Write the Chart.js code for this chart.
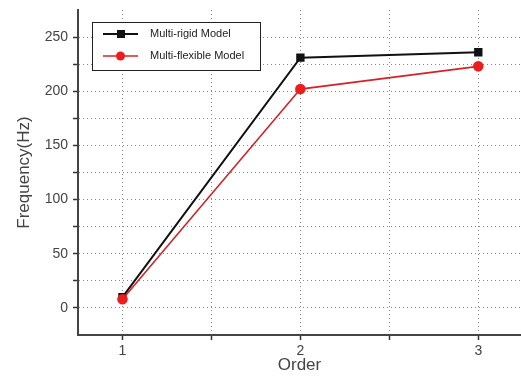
<!DOCTYPE html>
<html>
<head>
<meta charset="utf-8">
<script src="https://cdn.jsdelivr.net/npm/chart.js@4/dist/chart.umd.min.js"></script>
<style>
  html, body { margin: 0; padding: 0; background: #fff; }
  #wrap { width: 521px; height: 376px; }
</style>
</head>
<body>
<div id="wrap"><canvas id="chart"></canvas></div>
<script>
const orders = [1, 2, 3];
const rigidValues = [10, 231, 236];
const flexibleValues = [8, 202, 223];
const xTicks = [1, 1.5, 2, 2.5, 3];
const yTicks = [0, 25, 50, 75, 100, 125, 150, 175, 200, 225, 250];

const toPoints = (values) => values.map((v, i) => ({ x: orders[i], y: v }));

// legend drawn inside the plot, like the original
const boxLegend = {
  id: "boxLegend",
  afterDraw(chart) {
    const { ctx, chartArea } = chart;
    const x0 = chartArea.left + 14;
    const y0 = chartArea.top + 12;
    ctx.save();
    ctx.fillStyle = "#fff";
    ctx.fillRect(x0, y0, 168, 48);
    ctx.strokeStyle = "#222";
    ctx.lineWidth = 1;
    ctx.strokeRect(x0 + 0.5, y0 + 0.5, 168, 48);
    chart.data.datasets.forEach((ds, i) => {
      const y = y0 + 12 + i * 22;
      ctx.strokeStyle = ds.borderColor;
      ctx.lineWidth = ds.borderWidth;
      ctx.beginPath();
      ctx.moveTo(x0 + 11, y);
      ctx.lineTo(x0 + 46, y);
      ctx.stroke();
      ctx.fillStyle = ds.pointBackgroundColor;
      if (ds.pointStyle === "rect") {
        ctx.fillRect(x0 + 25, y - 4, 8, 8);
      } else {
        ctx.beginPath();
        ctx.arc(x0 + 28.5, y, 4.5, 0, Math.PI * 2);
        ctx.fill();
      }
      ctx.fillStyle = "#222";
      ctx.font = "11px 'Liberation Sans', Arial, sans-serif";
      ctx.textBaseline = "middle";
      ctx.fillText(ds.label, x0 + 58, y);
    });
    ctx.restore();
  },
};

new Chart(document.getElementById("chart"), {
  type: "scatter",
  data: {
    datasets: [
      {
        label: "Multi-rigid Model",
        data: toPoints(rigidValues),
        showLine: true,
        borderColor: "#111",
        borderWidth: 2,
        pointStyle: "rect",
        pointRadius: 4.5,
        pointBackgroundColor: "#111",
        pointBorderColor: "#111",
        order: 1,
      },
      {
        label: "Multi-flexible Model",
        data: toPoints(flexibleValues),
        showLine: true,
        borderColor: "#d02428",
        borderWidth: 1.6,
        pointStyle: "circle",
        pointRadius: 4.5,
        pointBackgroundColor: "#ee1c1c",
        pointBorderColor: "#ee1c1c",
        order: 0,
      },
    ],
  },
  options: {
    responsive: true,
    maintainAspectRatio: false,
    animation: false,
    layout: { autoPadding: false, padding: { top: 10, right: 0, left: 0, bottom: 0 } },
    plugins: {
      legend: { display: false },
      tooltip: { enabled: false },
    },
    scales: {
      x: {
        type: "linear",
        min: 0.75,
        max: 3.24,
        afterBuildTicks: (axis) => {
          axis.ticks = xTicks.map((v) => ({ value: v }));
        },
        afterFit: (axis) => {
          axis.height = 41;
          axis.paddingLeft = 0;
          axis.paddingRight = 0;
        },
        ticks: {
          color: "#444",
          padding: 3,
          font: { size: 14, family: "'Liberation Sans', Arial, sans-serif" },
          maxRotation: 0,
          autoSkip: false,
          callback: (v) => (Number.isInteger(v) ? String(v) : ""),
        },
        grid: {
          color: "#8a8a8a",
          lineWidth: 1,
          tickLength: 5,
          tickColor: "#333",
          tickWidth: 1.5,
        },
        border: { display: true, color: "#444", width: 2, dash: [1, 3] },
        title: {
          display: true,
          text: "Order",
          color: "#444",
          padding: { top: 0, bottom: 0 },
          font: { size: 17, family: "'Liberation Sans', Arial, sans-serif" },
        },
      },
      y: {
        min: -25,
        max: 275,
        afterBuildTicks: (axis) => {
          axis.ticks = yTicks.map((v) => ({ value: v }));
        },
        afterFit: (axis) => {
          axis.width = 78;
          axis.paddingTop = 0;
          axis.paddingBottom = 0;
        },
        ticks: {
          color: "#444",
          padding: 5,
          font: { size: 14, family: "'Liberation Sans', Arial, sans-serif" },
          autoSkip: false,
          callback: (v) => (v % 50 === 0 ? String(v) : ""),
        },
        grid: {
          color: "#8a8a8a",
          lineWidth: 1,
          tickLength: 5,
          tickColor: "#333",
          tickWidth: 1.5,
        },
        border: { display: true, color: "#444", width: 2, dash: [1, 3] },
        title: {
          display: true,
          text: "Frequency(Hz)",
          color: "#444",
          padding: { top: 14, bottom: 0 },
          font: { size: 17, family: "'Liberation Sans', Arial, sans-serif" },
        },
      },
    },
  },
  plugins: [boxLegend],
});
</script>
</body>
</html>
